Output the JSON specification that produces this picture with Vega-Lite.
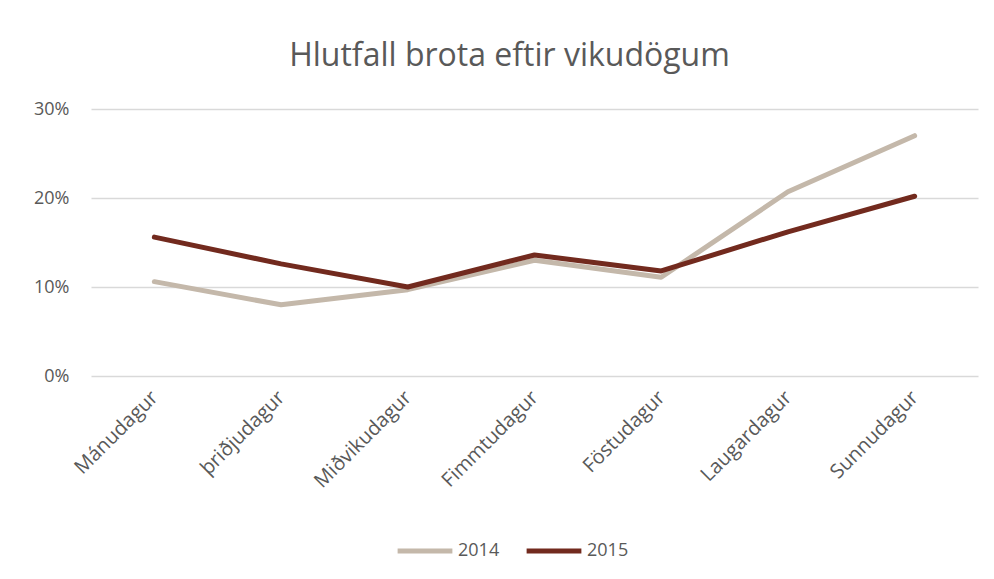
{
  "$schema": "https://vega.github.io/schema/vega-lite/v6.json",
  "width": 887,
  "height": 267,
  "autosize": {"type": "none"},
  "padding": {"left": 91, "top": 109, "right": 16, "bottom": 203},
  "background": "white",
  "title": {
    "text": "Hlutfall brota eftir vikudögum",
    "font": "Open Sans",
    "fontSize": 32,
    "fontWeight": "normal",
    "color": "#595959",
    "anchor": "middle",
    "offset": 27,
    "dx": -25
  },
  "data": {
    "values": [
      {"dagur": "Mánudagur", "ar": "2014", "hlutfall": 0.106},
      {"dagur": "þriðjudagur", "ar": "2014", "hlutfall": 0.080},
      {"dagur": "Miðvikudagur", "ar": "2014", "hlutfall": 0.097},
      {"dagur": "Fimmtudagur", "ar": "2014", "hlutfall": 0.130},
      {"dagur": "Föstudagur", "ar": "2014", "hlutfall": 0.111},
      {"dagur": "Laugardagur", "ar": "2014", "hlutfall": 0.207},
      {"dagur": "Sunnudagur", "ar": "2014", "hlutfall": 0.270},
      {"dagur": "Mánudagur", "ar": "2015", "hlutfall": 0.156},
      {"dagur": "þriðjudagur", "ar": "2015", "hlutfall": 0.126},
      {"dagur": "Miðvikudagur", "ar": "2015", "hlutfall": 0.100},
      {"dagur": "Fimmtudagur", "ar": "2015", "hlutfall": 0.136},
      {"dagur": "Föstudagur", "ar": "2015", "hlutfall": 0.118},
      {"dagur": "Laugardagur", "ar": "2015", "hlutfall": 0.162},
      {"dagur": "Sunnudagur", "ar": "2015", "hlutfall": 0.202}
    ]
  },
  "mark": {"type": "line", "strokeWidth": 5, "strokeCap": "round", "strokeJoin": "round"},
  "encoding": {
    "x": {
      "field": "dagur",
      "type": "nominal",
      "sort": null,
      "scale": {"paddingInner": 0, "paddingOuter": 0.5},
      "axis": {
        "title": null,
        "labelAngle": -45,
        "labelAlign": "right",
        "labelBaseline": "middle",
        "labelFont": "Open Sans",
        "labelFontSize": 20,
        "labelColor": "#595959",
        "labelPadding": 18,
        "ticks": false,
        "domain": false,
        "grid": false
      }
    },
    "y": {
      "field": "hlutfall",
      "type": "quantitative",
      "scale": {"domain": [0, 0.3]},
      "axis": {
        "title": null,
        "format": ".0%",
        "values": [0, 0.1, 0.2, 0.3],
        "labelFont": "Open Sans",
        "labelFontSize": 18,
        "labelColor": "#595959",
        "labelPadding": 22,
        "ticks": false,
        "domain": false,
        "grid": true,
        "gridColor": "#d9d9d9",
        "gridWidth": 1.5
      }
    },
    "color": {
      "field": "ar",
      "type": "nominal",
      "scale": {"domain": ["2014", "2015"], "range": ["#C4B8AA", "#722A1E"]},
      "legend": {
        "title": null,
        "orient": "none",
        "direction": "horizontal",
        "legendX": 304,
        "legendY": 412,
        "symbolType": "stroke",
        "symbolSize": 3000,
        "symbolStrokeWidth": 5,
        "labelFont": "Open Sans",
        "labelFontSize": 18,
        "labelColor": "#595959",
        "labelOffset": 3,
        "columnPadding": 16
      }
    }
  },
  "config": {"view": {"stroke": null}}
}
